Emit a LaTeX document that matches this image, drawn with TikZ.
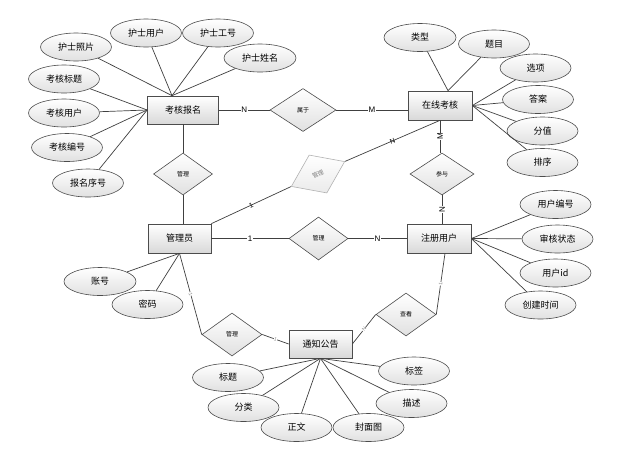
\documentclass[tikz,border=0pt]{standalone}
\usepackage{fontspec}
\setmainfont{Liberation Sans}
\newfontfamily\cjk{Noto Sans CJK SC}
\usetikzlibrary{shapes.geometric,calc}
\begin{document}
\begin{tikzpicture}[x=1pt,y=-1pt,
 ent/.style={draw=black!70, line width=0.7pt, top color=white, bottom color=black!15, minimum width=64pt, minimum height=29pt, inner sep=0pt, font=\cjk\fontsize{9}{10}\selectfont},
 attr/.style={ellipse, draw=black!70, line width=0.6pt, top color=white, bottom color=black!12, minimum width=71pt, minimum height=28pt, inner sep=0pt, font=\cjk\fontsize{9}{10}\selectfont},
 rel/.style={diamond, draw=black!70, line width=0.6pt, top color=white, bottom color=black!12, minimum width=60pt, minimum height=43pt, inner sep=0pt, font=\cjk\fontsize{6}{7}\selectfont},
 ln/.style={draw=black!75, line width=0.7pt},
 card/.style={fill=white, inner sep=0.5pt, font=\fontsize{8}{9}\selectfont},
 faint/.style={fill=white, inner sep=0.3pt, text=black!45, font=\fontsize{5}{6}\selectfont},
]
\useasboundingbox[fill=white] (0,0) rectangle (643,456);

% entities
\node[ent, minimum width=71pt, minimum height=28pt] (kb) at (183,110) {考核报名};
\node[ent] (zx) at (440,105.5) {在线考核};
\node[ent, minimum width=63pt] (gly) at (179.5,238.5) {管理员};
\node[ent] (zc) at (439,238.5) {注册用户};
\node[ent, minimum width=63pt, minimum height=28pt] (tz) at (320.5,344) {通知公告};

% relationships
\node[rel, minimum width=66pt] (sy) at (303,110) {属于};
\node[rel, minimum width=59pt, minimum height=42pt] (gl1) at (183,174) {管理};
\node[rel, minimum width=59pt, minimum height=42pt, rotate=25, draw=black!30, bottom color=black!8, text=black!50] (gl2) at (318,174) {管理};
\node[rel, minimum width=59pt] (gl3) at (318.5,238.5) {管理};
\node[rel, minimum width=64pt, minimum height=42pt] (cy) at (442,174) {参与};
\node[rel] (gl4) at (232,334.5) {管理};
\node[rel] (ck) at (406,314.5) {查看};

% attributes of 考核报名
\node[attr] (a1) at (76,47) {护士照片};
\node[attr] (a2) at (146,33) {护士用户};
\node[attr] (a3) at (218,33) {护士工号};
\node[attr, minimum width=72pt] (a4) at (260,58) {护士姓名};
\node[attr] (a5) at (64,79) {考核标题};
\node[attr] (a6) at (64,113) {考核用户};
\node[attr] (a7) at (67,147.5) {考核编号};
\node[attr] (a8) at (88,183) {报名序号};

% attributes of 在线考核
\node[attr, minimum width=72pt] (b1) at (420,37.5) {类型};
\node[attr] (b2) at (494,44) {题目};
\node[attr] (b3) at (535.5,68) {选项};
\node[attr] (b4) at (538,99.5) {答案};
\node[attr] (b5) at (542.5,131) {分值};
\node[attr] (b6) at (542.5,162.5) {排序};

% attributes of 管理员
\node[attr, minimum width=72pt] (c1) at (100,281.5) {账号};
\node[attr] (c2) at (147.5,304.5) {密码};

% attributes of 注册用户
\node[attr] (d1) at (555.5,204.5) {用户编号};
\node[attr] (d2) at (557.5,239) {审核状态};
\node[attr] (d3) at (555.5,273) {用户id};
\node[attr] (d4) at (540.5,305) {创建时间};

% attributes of 通知公告
\node[attr] (e1) at (228,377.5) {标题};
\node[attr] (e2) at (243.5,407.5) {分类};
\node[attr] (e3) at (296.5,427.5) {正文};
\node[attr] (e4) at (414,371) {标签};
\node[attr] (e5) at (411.5,403.5) {描述};
\node[attr] (e6) at (368.5,427.5) {封面图};

% attachment points
\coordinate (kbT) at ([xshift=-11pt]kb.north);
\coordinate (zxT) at ([xshift=8pt]zx.north);
\coordinate (zcB) at ([xshift=6pt]zc.south);

% attribute connectors
\foreach \a in {a1,a2,a3,a4} \draw[ln] (\a) -- (kbT);
\foreach \a in {a5,a6,a7,a8} \draw[ln] (\a) -- (kb.west);
\foreach \a in {b1,b2} \draw[ln] (\a) -- (zxT);
\foreach \a in {b3,b4,b5,b6} \draw[ln] (\a) -- (zx.east);
\foreach \a in {c1,c2} \draw[ln] (\a) -- (gly.south);
\foreach \a in {d1,d2,d3,d4} \draw[ln] (\a) -- (zc.east);
\foreach \a in {e1,e2,e3,e4,e5,e6} \draw[ln] (\a) -- (tz.south);

% relationship connectors
\draw[ln] (kb.east) -- node[card]{N} (sy.west);
\draw[ln] (sy.east) -- node[card]{M} (sy.east -| zx.west);
\draw[ln] (zx.south) -- node[card, rotate=90]{M} (zx.south |- cy.north);
\draw[ln] (cy.south) -- node[card, rotate=90]{N} (cy.south |- zc.north);
\draw[ln] (zx.south) -- node[card, sloped, fill=none, font=\fontsize{7}{8}\selectfont]{N} (gl2.east);
\draw[ln] (gl2.west) -- node[card, sloped, fill=none, font=\fontsize{7}{8}\selectfont]{1} (gly.north east);
\draw[ln] (kb.south) -- (gl1.north);
\draw[ln] (gl1.south) -- (gly.north -| gl1.south);
\draw[ln] (gly.east) -- node[card]{1} (gl3.west);
\draw[ln] (gl3.east) -- node[card]{N} (zc.west);
\draw[ln] (gly.south) -- node[faint, sloped]{1} (gl4.west);
\draw[ln] (gl4.east) -- node[faint, sloped]{1} (tz.west);
\draw[ln] (zcB) -- node[faint, sloped]{1} (ck.east);
\draw[ln] (ck.west) -- node[faint, sloped]{N} (tz.east);
\end{tikzpicture}
\end{document}
